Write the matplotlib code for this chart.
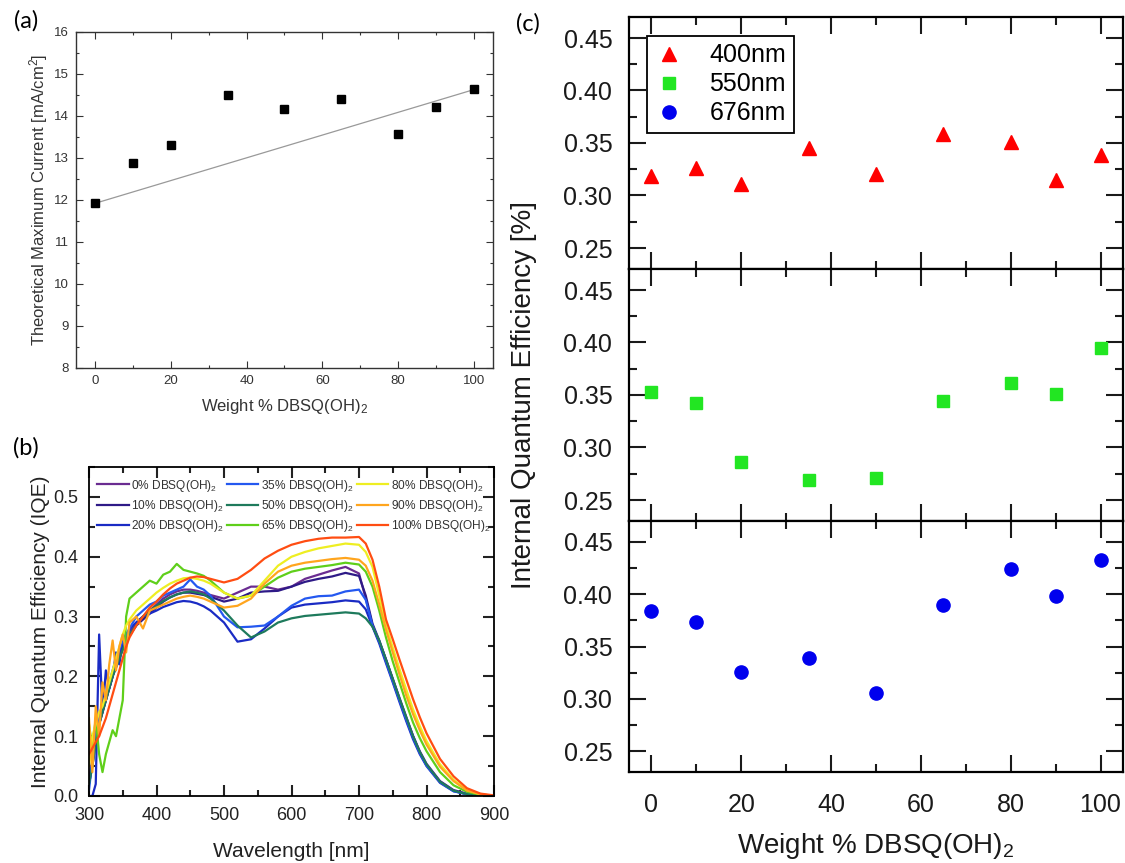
import numpy as np
import matplotlib
matplotlib.use('Agg')
import matplotlib.pyplot as plt
from matplotlib.ticker import MultipleLocator, FormatStrFormatter
from matplotlib.lines import Line2D

plt.rcParams['font.family'] = ['Liberation Sans', 'DejaVu Sans']
plt.rcParams['mathtext.fontset'] = 'custom'
plt.rcParams['mathtext.rm'] = 'Liberation Sans'
plt.rcParams['mathtext.it'] = 'Liberation Sans:italic'

# ---- (a) theoretical maximum current vs blend ratio
wt = [0, 10, 20, 35, 50, 65, 80, 90, 100]
jmax = [11.93, 12.87, 13.32, 14.50, 14.16, 14.41, 13.58, 14.22, 14.65]
fit_x = [0, 100]
fit_y = [11.92, 14.63]

# ---- (b) IQE spectra
wl = [300, 305, 310, 315, 320, 325, 330, 335, 340, 345, 350, 355, 360,
      370, 380, 390, 400, 410, 420, 430, 440, 450, 460, 470, 480,
      500, 520, 540, 560, 580, 600, 620, 640, 660, 680, 700,
      710, 720, 730, 740, 750, 760, 770, 780, 790, 800,
      820, 840, 860, 880, 900]

iqe_0 = [0.03, 0.06, 0.10, 0.12, 0.14, 0.16, 0.18, 0.20, 0.22, 0.24, 0.255, 0.265, 0.275,
         0.29, 0.30, 0.31, 0.32, 0.33, 0.337, 0.342, 0.345, 0.345, 0.343, 0.340, 0.336,
         0.330, 0.340, 0.350, 0.350, 0.345, 0.350, 0.363, 0.370, 0.377, 0.383, 0.372,
         0.330, 0.285, 0.258, 0.228, 0.196, 0.164, 0.132, 0.101, 0.075, 0.054,
         0.025, 0.010, 0.004, 0.001, 0.0]
iqe_10 = [0.02, 0.05, 0.09, 0.12, 0.14, 0.16, 0.18, 0.20, 0.215, 0.23, 0.245, 0.258, 0.268,
          0.285, 0.295, 0.305, 0.315, 0.325, 0.332, 0.337, 0.340, 0.340, 0.338, 0.336, 0.333,
          0.325, 0.330, 0.340, 0.342, 0.343, 0.350, 0.358, 0.363, 0.367, 0.373, 0.368,
          0.335, 0.288, 0.260, 0.228, 0.195, 0.162, 0.130, 0.100, 0.073, 0.052,
          0.024, 0.009, 0.003, 0.001, 0.0]
iqe_20 = [0.0, 0.0, 0.02, 0.27, 0.14, 0.21, 0.18, 0.20, 0.24, 0.22, 0.26, 0.25, 0.28,
          0.29, 0.30, 0.305, 0.31, 0.316, 0.320, 0.324, 0.326, 0.325, 0.322, 0.317, 0.310,
          0.290, 0.258, 0.262, 0.280, 0.300, 0.315, 0.320, 0.322, 0.324, 0.327, 0.325,
          0.312, 0.283, 0.255, 0.222, 0.190, 0.157, 0.125, 0.095, 0.070, 0.050,
          0.022, 0.008, 0.003, 0.001, 0.0]
iqe_35 = [0.01, 0.06, 0.11, 0.13, 0.15, 0.17, 0.19, 0.21, 0.23, 0.245, 0.26, 0.27, 0.28,
          0.30, 0.31, 0.32, 0.325, 0.335, 0.340, 0.345, 0.350, 0.362, 0.350, 0.345, 0.335,
          0.300, 0.282, 0.283, 0.285, 0.300, 0.318, 0.330, 0.334, 0.335, 0.342, 0.345,
          0.328, 0.285, 0.258, 0.225, 0.192, 0.160, 0.128, 0.098, 0.072, 0.051,
          0.023, 0.008, 0.003, 0.001, 0.0]
iqe_50 = [0.02, 0.05, 0.09, 0.12, 0.14, 0.16, 0.18, 0.20, 0.215, 0.23, 0.245, 0.258, 0.27,
          0.285, 0.30, 0.31, 0.318, 0.326, 0.332, 0.337, 0.340, 0.342, 0.340, 0.337, 0.330,
          0.310, 0.285, 0.265, 0.275, 0.290, 0.297, 0.301, 0.303, 0.305, 0.307, 0.305,
          0.297, 0.283, 0.260, 0.228, 0.196, 0.163, 0.132, 0.100, 0.074, 0.053,
          0.024, 0.009, 0.003, 0.001, 0.0]
iqe_65 = [0.12, 0.08, 0.13, 0.07, 0.04, 0.07, 0.09, 0.11, 0.10, 0.13, 0.16, 0.30, 0.33,
          0.34, 0.35, 0.36, 0.355, 0.37, 0.375, 0.388, 0.378, 0.375, 0.372, 0.368, 0.360,
          0.340, 0.330, 0.335, 0.350, 0.365, 0.375, 0.380, 0.383, 0.386, 0.390, 0.387,
          0.375, 0.350, 0.310, 0.265, 0.225, 0.190, 0.155, 0.123, 0.097, 0.075,
          0.040, 0.018, 0.007, 0.002, 0.0]
iqe_80 = [0.05, 0.10, 0.12, 0.14, 0.15, 0.17, 0.19, 0.21, 0.23, 0.25, 0.27, 0.285, 0.295,
          0.310, 0.320, 0.330, 0.340, 0.348, 0.355, 0.360, 0.364, 0.365, 0.363, 0.360, 0.355,
          0.340, 0.330, 0.335, 0.360, 0.385, 0.400, 0.408, 0.414, 0.418, 0.422, 0.420,
          0.408, 0.383, 0.335, 0.285, 0.248, 0.212, 0.178, 0.145, 0.117, 0.092,
          0.053, 0.027, 0.010, 0.003, 0.0]
iqe_90 = [0.13, 0.04, 0.15, 0.10, 0.19, 0.16, 0.22, 0.26, 0.21, 0.25, 0.27, 0.24, 0.29,
          0.300, 0.280, 0.310, 0.315, 0.320, 0.325, 0.330, 0.333, 0.335, 0.333, 0.330, 0.325,
          0.315, 0.318, 0.330, 0.355, 0.375, 0.385, 0.390, 0.393, 0.396, 0.398, 0.395,
          0.385, 0.360, 0.320, 0.278, 0.240, 0.203, 0.168, 0.137, 0.110, 0.086,
          0.049, 0.025, 0.009, 0.003, 0.0]
iqe_100 = [0.07, 0.08, 0.09, 0.10, 0.115, 0.13, 0.15, 0.17, 0.19, 0.21, 0.23, 0.25, 0.265,
           0.285, 0.300, 0.315, 0.325, 0.337, 0.347, 0.355, 0.360, 0.365, 0.367, 0.366, 0.363,
           0.357, 0.363, 0.378, 0.397, 0.410, 0.420, 0.426, 0.430, 0.432, 0.432, 0.433,
           0.422, 0.395, 0.350, 0.295, 0.262, 0.228, 0.195, 0.162, 0.132, 0.105,
           0.062, 0.033, 0.013, 0.004, 0.001]

spectra = [('0%', iqe_0, '#6a2c91'), ('10%', iqe_10, '#2e1a87'), ('20%', iqe_20, '#1a2bc4'),
           ('35%', iqe_35, '#2458f0'), ('50%', iqe_50, '#1e7a5c'), ('65%', iqe_65, '#5fcf1a'),
           ('80%', iqe_80, '#eeee22'), ('90%', iqe_90, '#ffa51e'), ('100%', iqe_100, '#ff4d12')]

# ---- (c) IQE at three wavelengths
iqe_400 = [0.319, 0.326, 0.311, 0.345, 0.320, 0.359, 0.351, 0.315, 0.339]
iqe_550 = [0.353, 0.342, 0.286, 0.269, 0.271, 0.344, 0.361, 0.351, 0.395]
iqe_676 = [0.384, 0.373, 0.326, 0.339, 0.306, 0.390, 0.424, 0.398, 0.433]

W, H = 1125, 863
fig = plt.figure(figsize=(W / 100, H / 100), dpi=100)


def box(x0, y0, x1, y1):
    return [x0 / W, 1 - y1 / H, (x1 - x0) / W, (y1 - y0) / H]


sub2 = ' DBSQ(OH)$_2$'

# (a)
axa = fig.add_axes(box(76, 32, 493, 368))
gray = '#333333'
axa.plot(fit_x, fit_y, color='#999999', lw=0.9, zorder=1)
axa.plot(wt, jmax, 's', color='black', ms=5.5, zorder=2)
axa.set_xlim(-5, 105)
axa.set_ylim(8, 16)
axa.xaxis.set_major_locator(MultipleLocator(20))
axa.xaxis.set_minor_locator(MultipleLocator(10))
axa.yaxis.set_major_locator(MultipleLocator(1))
axa.yaxis.set_minor_locator(MultipleLocator(0.5))
axa.tick_params(which='both', direction='in', top=True, right=True,
                labelsize=9.5, colors=gray, width=0.8)
axa.tick_params(which='major', length=5, pad=5)
axa.tick_params(which='minor', length=2.5)
for s in axa.spines.values():
    s.set_color(gray)
    s.set_linewidth(1.0)
axa.set_ylabel('Theoretical Maximum Current [mA/cm$^2$]', fontsize=12, color=gray, labelpad=3)
axa.set_xlabel('Weight %' + sub2, fontsize=12, color=gray, labelpad=7)

# (b)
axb = fig.add_axes(box(89, 467, 494, 796))
for lab, y, c in spectra:
    axb.plot(wl, y, color=c, lw=1.6, label=lab + sub2)
axb.set_xlim(300, 900)
axb.set_ylim(0, 0.55)
axb.xaxis.set_major_locator(MultipleLocator(100))
axb.xaxis.set_minor_locator(MultipleLocator(50))
axb.yaxis.set_major_locator(MultipleLocator(0.1))
axb.yaxis.set_minor_locator(MultipleLocator(0.05))
axb.yaxis.set_major_formatter(FormatStrFormatter('%.1f'))
axb.tick_params(which='both', direction='in', top=True, right=True,
                labelsize=13, colors='#222222', width=1.5)
axb.tick_params(which='major', length=8, pad=8)
axb.tick_params(which='minor', length=4.5)
for s in axb.spines.values():
    s.set_linewidth(1.3)
axb.set_ylabel('Internal Quantum Efficiency (IQE)', fontsize=15, color='#222222', labelpad=2)
axb.set_xlabel('Wavelength [nm]', fontsize=15, color='#222222', labelpad=13)
axb.legend(ncol=3, loc='upper left', bbox_to_anchor=(0.015, 0.975), frameon=False,
           fontsize=8.6, handlelength=2.6, handletextpad=0.2, columnspacing=0.3,
           labelspacing=0.35, borderpad=0.2, borderaxespad=0, labelcolor='#333333')

# (c)
edges = [17, 269, 521, 772]
series = [(iqe_400, '^', '#ff0000', 10, '400nm'),
          (iqe_550, 's', '#22e622', 8.5, '550nm'),
          (iqe_676, 'o', '#0000ee', 9.5, '676nm')]
axes_c = []
handles = []
for i, (vals, mk, col, ms, lab) in enumerate(series):
    ax = fig.add_axes(box(629, edges[i], 1123, edges[i + 1]))
    ax.plot(wt, vals, mk, color=col, ms=ms, mec=col, ls='none')
    handles.append(Line2D([], [], marker=mk, color=col, ms=ms, ls='none', label=lab))
    ax.set_xlim(-5, 105)
    ax.set_ylim(0.23, 0.47)
    ax.xaxis.set_major_locator(MultipleLocator(20))
    ax.xaxis.set_minor_locator(MultipleLocator(10))
    ax.yaxis.set_major_locator(MultipleLocator(0.05))
    ax.yaxis.set_minor_locator(MultipleLocator(0.025))
    ax.yaxis.set_major_formatter(FormatStrFormatter('%.2f'))
    ax.tick_params(which='both', direction='in', top=True, right=True,
                   labelsize=18, colors='#1a1a1a', width=1.5)
    ax.tick_params(which='major', length=12)
    ax.tick_params(axis='y', which='major', pad=12)
    ax.tick_params(axis='x', which='major', pad=15)
    ax.tick_params(which='minor', length=6)
    for s in ax.spines.values():
        s.set_linewidth(1.6)
    if i < 2:
        ax.tick_params(labelbottom=False)
    axes_c.append(ax)

axes_c[2].set_xlabel('Weight %' + sub2, fontsize=20, color='#1a1a1a', labelpad=10)
fig.text(524 / W, 1 - 395 / H, 'Internal Quantum Efficiency [%]', rotation=90,
         fontsize=20, color='#1a1a1a', ha='center', va='center')
leg = axes_c[0].legend(handles=handles, loc='upper left', bbox_to_anchor=(0.036, 0.925),
                       borderaxespad=0, fontsize=18, handlelength=1.2, handletextpad=1.0,
                       labelspacing=0.2, borderpad=0.3, fancybox=False, framealpha=1)
leg.get_frame().set_edgecolor('black')
leg.get_frame().set_linewidth(1.3)

# panel letters
for x, y, t in [(26, 21, '(a)'), (26, 448, '(b)'), (528, 24, '(c)')]:
    fig.text(x / W, 1 - y / H, t, fontsize=17, family=['Lato', 'DejaVu Sans'],
             ha='center', va='center')

fig.savefig('out.png', dpi=100)
